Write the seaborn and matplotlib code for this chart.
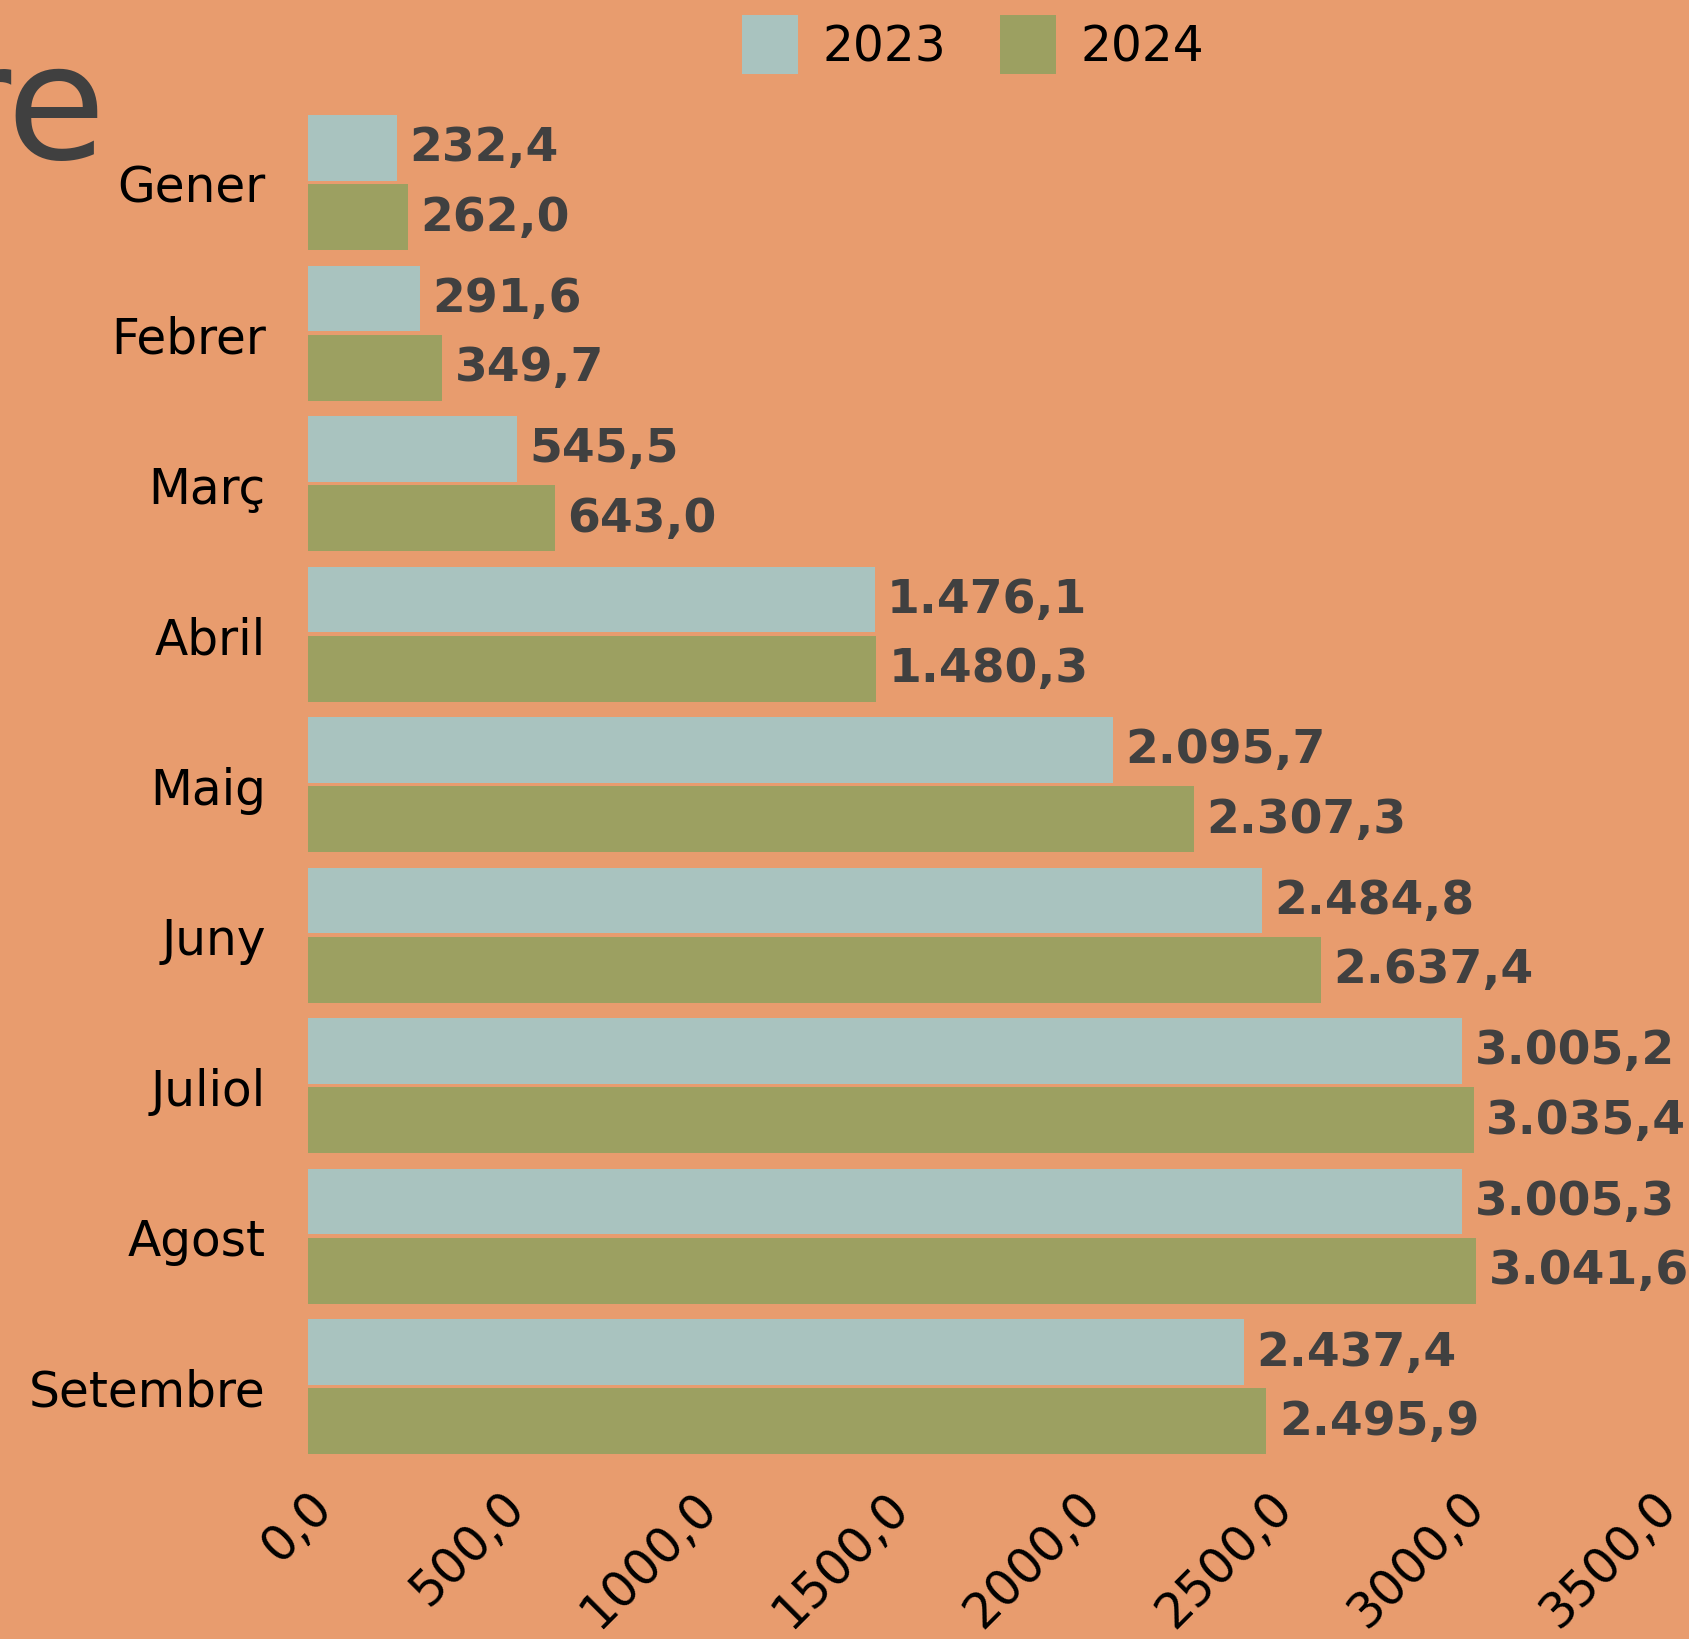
import seaborn as sns
import matplotlib.pyplot as plt
import pandas as pd

mesos = ['Gener', 'Febrer', 'Març', 'Abril', 'Maig', 'Juny', 'Juliol', 'Agost', 'Setembre']
v_2023 = [232.4, 291.6, 545.5, 1476.1, 2095.7, 2484.8, 3005.2, 3005.3, 2437.4]
v_2024 = [262.0, 349.7, 643.0, 1480.3, 2307.3, 2637.4, 3035.4, 3041.6, 2495.9]
anys = ['2023', '2024']
x_ticks = [0, 500, 1000, 1500, 2000, 2500, 3000, 3500]

bg = '#E89C6E'
palette = {'2023': '#A9C3BF', '2024': '#9CA061'}

df = pd.DataFrame({
    'Mes': mesos * 2,
    'Valor': v_2023 + v_2024,
    'Any': [anys[0]] * len(mesos) + [anys[1]] * len(mesos),
})


def fmt(v):
    s = f'{v:,.1f}'
    return s.replace(',', 'X').replace('.', ',').replace('X', '.')


sns.set_theme(style='white')
plt.rcParams['font.family'] = ['DejaVu Sans']

fig = plt.figure(figsize=(16.9, 16.4), dpi=100, facecolor=bg)
ax = fig.add_axes([0.182, 0.108, 0.7955, 0.826])
ax.set_facecolor(bg)

sns.barplot(data=df, y='Mes', x='Valor', hue='Any', palette=palette, saturation=1,
            orient='h', width=0.92, gap=0.05, linewidth=0, ax=ax, legend=True)

# etiquetes de valor al final de cada barra
for cont, vals in zip(ax.containers, [v_2023, v_2024]):
    ax.bar_label(cont, labels=[fmt(v) for v in vals], padding=9,
                 fontsize=34, fontweight='bold', color='#404040')

ax.set_xlim(0, 3500)
ax.set_xticks(x_ticks)
ax.set_xticklabels([f'{t:.1f}'.replace('.', ',') for t in x_ticks],
                   rotation=45, ha='right', rotation_mode='anchor', fontsize=35, color='black')
ax.tick_params(axis='y', labelsize=35, colors='black', pad=30, length=0)
ax.tick_params(axis='x', pad=14, length=0)
ax.set_xlabel('')
ax.set_ylabel('')
sns.despine(ax=ax, left=True, bottom=True)

leg = ax.legend(loc='center', bbox_to_anchor=(0.495, 1.0465), ncol=2, frameon=False,
                fontsize=35, handlelength=1.15, handleheight=1.5, columnspacing=1.1,
                handletextpad=0.5, labelcolor='black')

fig.text(0.063, 0.93, 're', fontsize=116, color='#404040', ha='right', va='center')

fig.savefig('out.png', dpi=100, facecolor=bg)
